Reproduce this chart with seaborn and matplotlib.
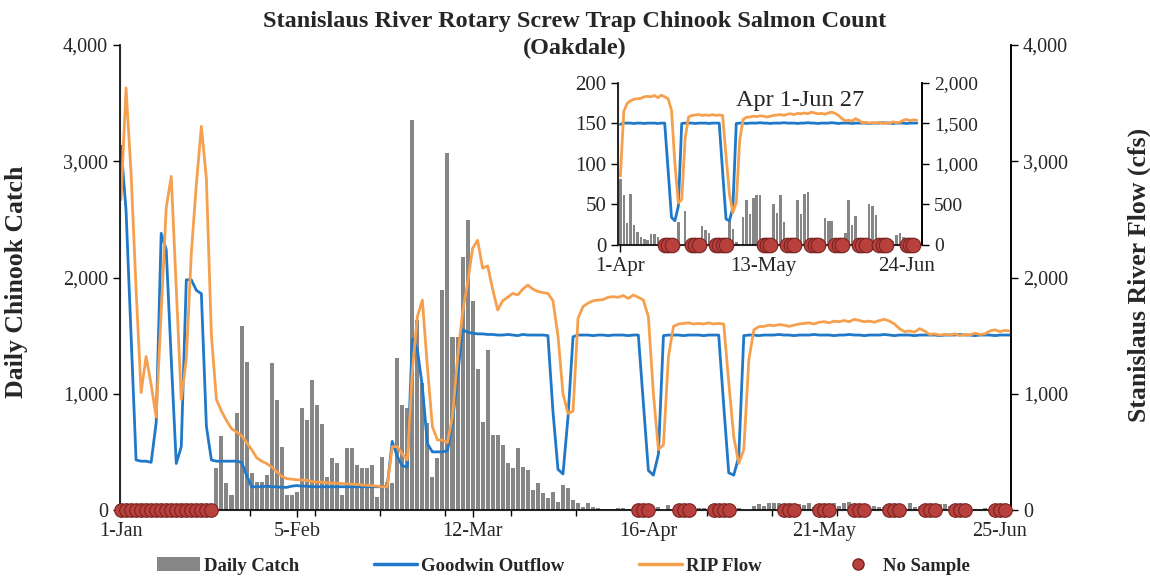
import numpy as np
import pandas as pd
import matplotlib
matplotlib.use("Agg")
import matplotlib.pyplot as plt
from matplotlib.lines import Line2D
from matplotlib.patches import Patch
from matplotlib.ticker import FuncFormatter, FixedLocator
import seaborn as sns

# ---------------- data (day 0 = 1-Jan, day 177 = 27-Jun) ----------------
daily_catch = [
    0, 0, 0, 0, 0, 0, 0, 0, 0, 0,
    0, 0, 0, 0, 0, 0, 0, 0, 0, 358,
    640, 229, 129, 837, 1583, 1270, 315, 244, 244, 301,
    1262, 946, 545, 129, 129, 158, 875, 774, 1118, 903,
    740, 287, 444, 401, 129, 530, 530, 387, 358, 358,
    387, 115, 459, 240, 230, 1305, 900, 875, 3355, 1634,
    1090, 746, 287, 450, 1892, 3068, 1491, 1491, 2179, 2495,
    1800, 1210, 760, 1376, 645, 645, 559, 401, 358, 530,
    372, 344, 172, 229, 143, 100, 158, 72, 215, 186,
    82, 62, 27, 63, 25, 16, 10, 8, 6, 14,
    14, 10, 5, 0, 0, 0, 0, 28, 0, 42,
    0, 0, 0, 0, 23, 19, 15, 5, 0, 0,
    0, 0, 30, 20, 4, 0, 35, 55, 38, 58,
    62, 62, 0, 0, 0, 50, 40, 62, 28, 0,
    0, 0, 56, 38, 63, 65, 0, 0, 0, 0,
    33, 30, 30, 0, 0, 0, 15, 56, 25, 36,
    0, 0, 0, 51, 48, 37, 0, 0, 0, 0,
    5, 12, 15, 10, 0, 0, 0, 0,
]

goodwin_outflow = [
    3130, 2580, 1500, 430, 420, 420, 410, 750, 2380, 2240,
    1300, 400, 545, 1980, 1980, 1890, 1860, 720, 430, 420,
    420, 420, 420, 420, 410, 300, 200, 200, 200, 205,
    200, 200, 195, 195, 205, 210, 205, 205, 200, 200,
    200, 200, 200, 200, 200, 200, 200, 200, 200, 200,
    200, 200, 200, 200, 590, 460, 380, 370, 1470, 1380,
    1060, 570, 500, 500, 500, 510, 760, 1150, 1550, 1530,
    1520, 1515, 1515, 1510, 1510, 1505, 1505, 1510, 1505, 1500,
    1510, 1505, 1505, 1505, 1505, 1500, 850, 350, 310, 800,
    1490, 1505, 1505, 1505, 1500, 1505, 1505, 1500, 1505, 1505,
    1505, 1500, 1505, 1505, 925, 340, 300, 480, 1500, 1505,
    1505, 1505, 1500, 1505, 1505, 1505, 1500, 1505, 1505, 1505,
    900, 320, 300, 460, 1500, 1505, 1505, 1500, 1505, 1505,
    1505, 1510, 1505, 1505, 1500, 1505, 1505, 1505, 1510, 1505,
    1505, 1505, 1500, 1505, 1505, 1510, 1505, 1505, 1500, 1505,
    1505, 1505, 1510, 1505, 1500, 1505, 1505, 1505, 1500, 1505,
    1505, 1505, 1505, 1500, 1505, 1505, 1505, 1510, 1505, 1505,
    1500, 1505, 1505, 1505, 1500, 1505, 1505, 1505,
]

rip_flow = [
    2670, 3630, 2900, 1900, 1010, 1320, 1080, 800, 1700, 2600,
    2870, 1900, 950, 1300, 2210, 2800, 3300, 2850, 1500, 950,
    850, 770, 700, 670, 640, 580, 520, 450, 420, 400,
    370, 330, 290, 270, 265, 260, 258, 255, 245, 240,
    240, 235, 232, 230, 228, 225, 222, 220, 215, 212,
    210, 205, 200, 200, 545, 545, 480, 430, 1200, 1663,
    1806, 1233, 717, 602, 602, 580, 803, 1300, 1700, 1950,
    2250, 2320, 2080, 2100, 1900, 1720, 1800, 1830, 1863, 1850,
    1900, 1935, 1900, 1880, 1870, 1863, 1800, 1500, 1000, 830,
    850, 1650, 1750, 1780, 1800, 1806, 1810, 1830, 1835, 1830,
    1845, 1820, 1849, 1830, 1806, 1663, 1000, 520, 560, 1320,
    1580, 1600, 1605, 1610, 1600, 1605, 1600, 1610, 1600, 1605,
    1600, 1100, 630, 400, 520, 1290, 1550, 1577, 1580, 1590,
    1585, 1595, 1590, 1580, 1590, 1600, 1605, 1610, 1600, 1615,
    1620, 1610, 1625, 1620, 1630, 1620, 1640, 1630, 1620, 1625,
    1615, 1630, 1640, 1625, 1600, 1560, 1534, 1540, 1530, 1560,
    1540, 1510, 1515, 1505, 1510, 1505, 1515, 1500, 1510, 1505,
    1520, 1510, 1515, 1540, 1550, 1535, 1545, 1540,
]

no_sample_days = (list(range(0, 19)) +
                  [103, 104, 105, 111, 112, 113, 118, 119, 120, 121,
                   132, 133, 134, 139, 140, 141, 146, 147, 148,
                   153, 154, 155, 160, 161, 162, 166, 167, 168,
                   174, 175, 176])

main_tick_days = [0, 35, 70, 105, 140, 175]
main_tick_labels = ["1-Jan", "5-Feb", "12-Mar", "16-Apr", "21-May", "25-Jun"]
inset_start_day = 90
inset_tick_days = [0, 42, 84]
inset_tick_labels = ["1-Apr", "13-May", "24-Jun"]

days = list(range(len(daily_catch)))
df = pd.DataFrame({"day": days, "catch": daily_catch,
                   "goodwin": goodwin_outflow, "rip": rip_flow})
ns = pd.DataFrame({"day": no_sample_days, "y": [0] * len(no_sample_days)})

# ---------------- style ----------------
sns.set_style("ticks")
plt.rcParams["font.family"] = ["Liberation Serif", "DejaVu Serif"]

BAR = "#868686"
BLUE = "#1f78c8"
ORANGE = "#f5a04e"
RED = "#b8403d"
RED_EDGE = "#7a2321"

comma = FuncFormatter(lambda v, p: f"{int(v):,}")

fig = plt.figure(figsize=(11.5, 5.78), dpi=100)
ax = fig.add_axes([120 / 1150, 1 - 510 / 578, 891 / 1150, 465 / 578])

sns.barplot(data=df, x="day", y="catch", ax=ax, native_scale=True, orient="x",
            color=BAR, saturation=1, width=0.8, errorbar=None, linewidth=0)
ax.set_ylim(0, 4000)
ax.set_xlim(-0.2, 177.2)
ax.set_yticks([0, 1000, 2000, 3000, 4000])
ax.yaxis.set_major_formatter(comma)
ax.set_xticks(main_tick_days)
ax.set_xticklabels(main_tick_labels)
minor = [12.6 + 13 * k for k in range(13)]
ax.xaxis.set_minor_locator(FixedLocator(minor))
ax.tick_params(axis="x", which="minor", length=4, width=1, color="black")
ax.tick_params(axis="both", which="major", labelsize=14.5, length=5, width=1,
               color="black", direction="out")
ax.set_xlabel("")
ax.set_ylabel("Daily Chinook Catch", fontsize=18.5, fontweight="bold")
ax.yaxis.set_label_coords(-0.103, 0.49)
ax.spines["top"].set_visible(False)
for s in ["left", "bottom", "right"]:
    ax.spines[s].set_color("black")
    ax.spines[s].set_linewidth(1.2)

ax2 = ax.twinx()
sns.lineplot(data=df, x="day", y="goodwin", ax=ax2, color=BLUE, linewidth=2.0)
sns.lineplot(data=df, x="day", y="rip", ax=ax2, color=ORANGE, linewidth=2.0)
sns.scatterplot(data=ns, x="day", y="y", ax=ax2, color=RED, edgecolor=RED_EDGE,
                linewidth=0.8, s=95, zorder=10, clip_on=False)
ax2.set_ylim(0, 4000)
ax2.set_xlim(-0.2, 177.2)
ax2.set_yticks([0, 1000, 2000, 3000, 4000])
ax2.yaxis.set_major_formatter(comma)
ax2.tick_params(axis="y", labelsize=14.5, length=5, width=1, color="black")
ax2.set_xlabel("")
ax2.set_ylabel("Stanislaus River Flow (cfs)", fontsize=18.5, fontweight="bold",
               rotation=90)
ax2.yaxis.set_label_coords(1.131, 0.505)
ax2.spines["top"].set_visible(False)
ax2.spines["right"].set_color("black")
ax2.spines["right"].set_linewidth(1.2)

fig.text(0.5, 1 - 22 / 578,
         "Stanislaus River Rotary Screw Trap Chinook Salmon Count",
         ha="center", va="center", fontsize=17.5, fontweight="bold")
fig.text(0.5, 1 - 48 / 578, "(Oakdale)", ha="center", va="center",
         fontsize=17.5, fontweight="bold")

# ---------------- inset ----------------
sub = df[df["day"] >= inset_start_day].copy()
sub["iday"] = sub["day"] - inset_start_day
ns_sub = ns[ns["day"] >= inset_start_day].copy()
ns_sub["iday"] = ns_sub["day"] - inset_start_day

axi = fig.add_axes([618 / 1150, 1 - 245 / 578, 304 / 1150, 162 / 578])
axi.patch.set_alpha(0)
sns.barplot(data=sub, x="iday", y="catch", ax=axi, native_scale=True,
            orient="x", color=BAR, saturation=1, width=0.75, errorbar=None,
            linewidth=0)
axi.set_ylim(0, 200)
axi.set_xlim(-0.7, 88.5)
axi.set_yticks([0, 50, 100, 150, 200])
axi.set_xticks(inset_tick_days)
axi.set_xticklabels(inset_tick_labels)
axi.tick_params(axis="both", labelsize=15, length=5, width=1, color="black")
axi.set_xlabel("")
axi.set_ylabel("")
axi.spines["top"].set_visible(False)
for s in ["left", "bottom", "right"]:
    axi.spines[s].set_color("black")
    axi.spines[s].set_linewidth(1.2)

axi2 = axi.twinx()
sns.lineplot(data=sub, x="iday", y="goodwin", ax=axi2, color=BLUE, linewidth=2.0)
sns.lineplot(data=sub, x="iday", y="rip", ax=axi2, color=ORANGE, linewidth=2.0)
sns.scatterplot(data=ns_sub, x="iday", y="y", ax=axi2, color=RED,
                edgecolor=RED_EDGE, linewidth=0.8, s=110, zorder=10,
                clip_on=False)
axi2.set_ylim(0, 2000)
axi2.set_xlim(-0.7, 88.5)
axi2.set_yticks([0, 500, 1000, 1500, 2000])
axi2.yaxis.set_major_formatter(comma)
axi2.tick_params(axis="y", labelsize=14, length=5, width=1, color="black")
axi2.set_xlabel("")
axi2.set_ylabel("")
axi2.spines["top"].set_visible(False)
axi2.spines["right"].set_color("black")
axi2.spines["right"].set_linewidth(1.2)
axi2.text(0.6, 0.89, "Apr 1-Jun 27", transform=axi2.transAxes, ha="center",
          va="center", fontsize=17.5)

# ---------------- legend ----------------
handles = [Patch(facecolor=BAR, edgecolor="none"),
           Line2D([0], [0], color=BLUE, lw=2.5),
           Line2D([0], [0], color=ORANGE, lw=2.5),
           Line2D([0], [0], color="none", marker="o", markerfacecolor=RED,
                  markeredgecolor=RED_EDGE, markersize=8)]
labels = ["Daily Catch", "Goodwin Outflow", "RIP Flow", "No Sample"]
fig.legend(handles, labels, loc="center", bbox_to_anchor=(0.49, 1 - 566 / 578),
           ncol=4, frameon=False, prop={"weight": "bold", "size": 13.5},
           handlelength=2.3, columnspacing=4.0, handletextpad=0.2)

fig.savefig("out.png", dpi=100)
